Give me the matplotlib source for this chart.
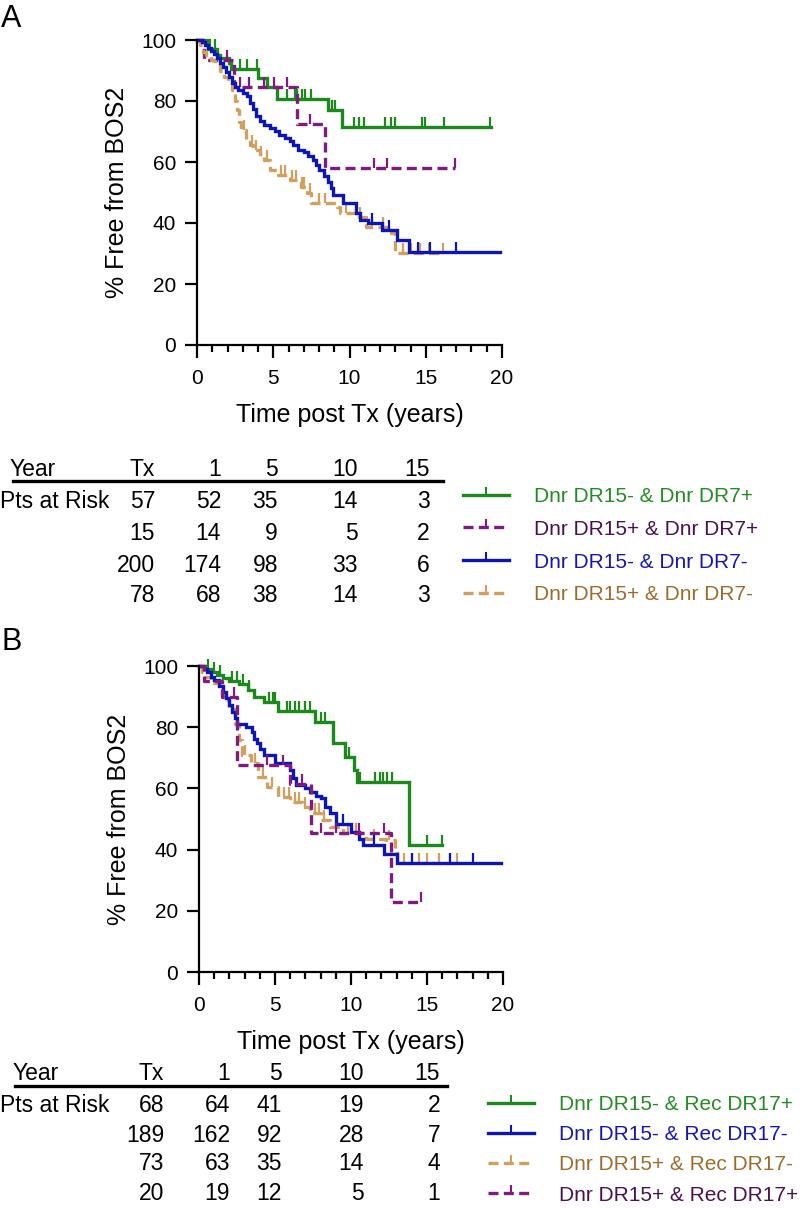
import numpy as np
import matplotlib
matplotlib.use("Agg")
import matplotlib.pyplot as plt
from matplotlib.lines import Line2D
from matplotlib.ticker import MultipleLocator

plt.rcParams['font.family'] = ['Liberation Sans', 'DejaVu Sans']

# ---------------- data: panel A ----------------
a_green_t = [0, 0.75, 1.3, 1.5, 2.1, 2.2, 4.0, 4.6, 5.25, 8.6, 9.5, 19.3]
a_green_s = [100, 97, 95, 94, 92.3, 90.5, 87.5, 84.5, 80.5, 77, 71.5, 71.5]
a_green_c = [0.87, 1.2, 2.84, 3.28, 3.93, 5.9, 6.45, 6.56, 6.9, 7.1, 7.5, 8.85,
             9.07, 10.27, 10.6, 10.93, 12.3, 12.75, 12.97, 14.75, 14.97, 16.17, 19.2]

a_purple_t = [0, 0.45, 2.4, 6.56, 8.4, 16.94]
a_purple_s = [100, 93.3, 84.7, 72.5, 58, 58]
a_purple_c = [1.97, 2.84, 3.39, 4.37, 5.03, 5.9, 7.43, 11.58, 12.46, 16.94]

a_blue_t = [0, 0.3, 0.5, 0.7, 0.9, 1.1, 1.3, 1.5, 1.7, 1.9, 2.1, 2.3, 2.5, 2.7,
            3.0, 3.3, 3.5, 3.7, 3.9, 4.1, 4.4, 4.8, 5.1, 5.4, 5.8, 6.1, 6.3, 6.6,
            7.0, 7.3, 7.6, 7.8, 8.0, 8.3, 8.6, 8.8, 8.95, 9.6, 10.4, 10.7, 11.2,
            12.1, 13.1, 13.9, 19.9]
a_blue_s = [100, 99.5, 98.5, 97.5, 96.5, 95.5, 94, 92.5, 91, 89.5, 88, 86, 84.5,
            83.5, 82.5, 81.5, 79.5, 77.5, 75, 73.5, 72, 71, 70, 69, 68, 67, 65.5,
            64, 63.3, 62, 60.5, 59, 57.5, 55.5, 53.5, 51.5, 49.2, 46.4, 43.2, 41,
            40, 37.7, 34.4, 30.6, 30.6]
a_blue_c = [11.5, 12.6, 14.5, 15.3, 17.0]

a_tan_t = [0, 0.2, 0.4, 0.6, 0.9, 1.2, 1.5, 1.8, 2.0, 2.3, 2.5, 2.6, 2.75, 2.9,
           3.2, 3.5, 3.7, 4.1, 4.4, 4.8, 5.3, 6.1, 6.8, 7.2, 7.5, 9.2, 9.4, 10.4,
           11.1, 12.7, 13.0, 16.1]
a_tan_s = [100, 98.5, 96, 95, 93.5, 92, 90, 88, 85.8, 83.5, 80, 77, 73, 70.5,
           67.2, 65.5, 64, 62, 60.7, 57.4, 55.7, 54, 51.9, 49.7, 46.4, 45.4, 43.2,
           42, 38.8, 36.6, 30.1, 30.1]
a_tan_c = [3.1, 3.6, 3.9, 4.2, 4.6, 5.5, 5.8, 6.2, 6.5, 6.9, 7.0, 7.4, 8.0, 8.4,
           9.8, 10.7, 11.5, 12.2, 13.5, 14.0, 14.6, 15.2, 16.1]

# ---------------- data: panel B ----------------
b_green_t = [0, 0.4, 0.8, 1.2, 1.6, 2.0, 2.6, 3.2, 3.6, 4.3, 5.2, 7.6, 8.8, 9.6,
             10.2, 10.4, 13.8, 16.0]
b_green_s = [100, 99, 98, 97, 96, 95, 94, 92, 90, 88.3, 85.4, 81.8, 74.7, 70.3,
             66, 62.2, 41.4, 41.4]
b_green_c = [0.6, 1.0, 1.4, 2.2, 2.5, 2.9, 3.3, 4.6, 4.9, 5.0, 5.8, 6.0, 6.3, 6.6,
             7.0, 7.3, 8.0, 8.3, 9.9, 10.6, 11.6, 11.9, 12.1, 12.4, 12.7, 15.0, 16.0]

b_blue_t = [0, 0.3, 0.5, 0.8, 1.0, 1.3, 1.6, 1.8, 2.0, 2.2, 2.4, 2.5, 3.1, 3.5,
            3.6, 3.8, 4.0, 4.3, 5.0, 6.0, 6.2, 6.4, 7.0, 7.3, 7.7, 8.0, 8.3, 8.6,
            9.0, 10.0, 10.5, 10.8, 12.2, 13.0, 19.9]
b_blue_s = [100, 99, 98, 96.5, 95.4, 93.5, 91.5, 89.5, 87.2, 85, 83, 81.2, 80,
            78.5, 76, 74.7, 73, 70.9, 68.2, 66, 63.5, 61, 60, 58.9, 57.5, 56.7, 54,
            51.8, 48.5, 45.8, 43.5, 41.4, 38.7, 35.7, 35.7]
b_blue_c = [9.5, 11.5, 14.0, 16.5, 18.0]

b_tan_t = [0, 0.2, 0.4, 0.8, 1.3, 1.6, 2.0, 2.4, 2.6, 2.8, 3.4, 3.9, 4.5, 5.2,
           6.0, 6.8, 7.3, 8.0, 8.6, 9.5, 11.0, 12.3, 12.9, 13.0, 17.0]
b_tan_s = [100, 98, 96.5, 94.3, 92, 89, 86, 81, 75.8, 70.9, 68.2, 63.8, 60.5,
           57.3, 55.6, 54, 51.8, 49.6, 47.4, 45.3, 43.6, 43, 40.3, 35.7, 35.7]
b_tan_c = [3.0, 3.7, 4.2, 4.8, 5.6, 5.9, 6.3, 6.6, 7.0, 7.6, 7.9, 8.2, 9.0, 9.8,
           10.3, 11.5, 12.5, 13.5, 14.0, 14.5, 15.0, 15.8, 16.5, 17.0]

b_purple_t = [0, 0.3, 1.5, 2.52, 6.0, 7.4, 12.66, 14.63]
b_purple_s = [100, 95, 90, 67.6, 61.6, 45.3, 22.9, 22.9]
b_purple_c = [2.3, 4.5, 5.5, 6.8, 8.0, 9.0, 10.5, 12.2, 14.6]

# ---------------- at-risk tables ----------------
years = ['Tx', '1', '5', '10', '15']
a_risk = [[57, 52, 35, 14, 3],
          [15, 14, 9, 5, 2],
          [200, 174, 98, 33, 6],
          [78, 68, 38, 14, 3]]
b_risk = [[68, 64, 41, 19, 2],
          [189, 162, 92, 28, 7],
          [73, 63, 35, 14, 4],
          [20, 19, 12, 5, 1]]

a_labels = ['Dnr DR15- & Dnr DR7+', 'Dnr DR15+ & Dnr DR7+',
            'Dnr DR15- & Dnr DR7-', 'Dnr DR15+ & Dnr DR7-']
b_labels = ['Dnr DR15- & Rec DR17+', 'Dnr DR15- & Rec DR17-',
            'Dnr DR15+ & Rec DR17-', 'Dnr DR15+ & Rec DR17+']

GREEN, PURPLE, BLUE, TAN = '#1b8a1b', '#801a80', '#0c16b8', '#d2a05e'
TXT = {GREEN: '#238c23', PURPLE: '#4b1050', BLUE: '#1616b4', TAN: '#9c6c2c'}
DASH = (0, (3, 1.6))

W, H = 800, 1208
fig = plt.figure(figsize=(W / 100, H / 100), dpi=100)


def fx(px):
    return px / W


def fy(py):
    return 1 - py / H


def km(ax, t, s, cens, color, ls):
    t = np.asarray(t)
    s = np.asarray(s)
    ax.step(t, s, where='post', color=color, lw=2.4, ls=ls, clip_on=False,
            solid_joinstyle='miter')
    cens = np.asarray(cens)
    idx = np.searchsorted(t, cens, side='right') - 1
    ax.plot(cens, s[idx], ls='none', marker=2, ms=7, mew=1.6, color=color,
            clip_on=False)


def style(ax):
    ax.set_xlim(0, 20)
    ax.set_ylim(0, 100)
    for sp in ('top', 'right'):
        ax.spines[sp].set_visible(False)
    for sp in ('left', 'bottom'):
        ax.spines[sp].set_linewidth(1.6)
    ax.xaxis.set_major_locator(MultipleLocator(5))
    ax.xaxis.set_minor_locator(MultipleLocator(1))
    ax.yaxis.set_major_locator(MultipleLocator(20))
    ax.tick_params(axis='both', which='major', direction='out', width=1.6,
                   labelsize=15)
    ax.tick_params(axis='x', which='major', length=9, pad=8)
    ax.tick_params(axis='x', which='minor', length=5, width=1.6)
    ax.tick_params(axis='y', which='major', length=9, pad=6)
    ax.set_xlabel('Time post Tx (years)', fontsize=18, labelpad=11)
    ax.set_ylabel('% Free from BOS2', fontsize=18, labelpad=9)


def table(rows, cols_r, y_head, y_line, y_rows, x_year, line_x):
    kw = dict(fontsize=16.5, va='center',
              family=['Liberation Sans', 'DejaVu Sans'])
    fig.text(fx(x_year), fy(y_head), 'Year', ha='left', **kw)
    for lab, xr in zip(years, cols_r):
        fig.text(fx(xr), fy(y_head), lab, ha='right', **kw)
    fig.add_artist(Line2D([fx(line_x[0]), fx(line_x[1])], [fy(y_line)] * 2,
                          color='black', lw=2.4, transform=fig.transFigure))
    fig.text(fx(0), fy(y_rows[0]), 'Pts at Risk', ha='left', **kw)
    for row, yr in zip(rows, y_rows):
        for v, xr in zip(row, cols_r):
            fig.text(fx(xr), fy(yr), str(v), ha='right', **kw)


def legend(specs, labels, x0, y0, spacing):
    handles = [Line2D([], [], color=c, lw=2.4, ls=ls, marker=2, ms=6, mew=1.5)
               for c, ls in specs]
    leg = fig.legend(handles, labels, loc='upper left',
                     bbox_to_anchor=(fx(x0), fy(y0)), frameon=False,
                     fontsize=15, handlelength=2.2, handletextpad=1.2,
                     labelspacing=spacing, borderpad=0, borderaxespad=0,
                     numpoints=1)
    for txt, (c, _) in zip(leg.get_texts(), specs):
        txt.set_color(TXT[c])


# ---------------- panel A ----------------
axA = fig.add_axes([fx(197), fy(345), 305 / W, 305 / H])
km(axA, a_green_t, a_green_s, a_green_c, GREEN, '-')
km(axA, a_purple_t, a_purple_s, a_purple_c, PURPLE, DASH)
km(axA, a_tan_t, a_tan_s, a_tan_c, TAN, DASH)
km(axA, a_blue_t, a_blue_s, a_blue_c, BLUE, '-')
style(axA)
fig.text(fx(1), fy(4), 'A', fontsize=22, ha='left', va='top')

table(a_risk, [155, 221, 278, 358, 430], 469, 481, [502, 533, 565, 596], 10,
      (13, 443))
legend([(GREEN, '-'), (PURPLE, DASH), (BLUE, '-'), (TAN, DASH)], a_labels,
       463, 487, 0.66)

# ---------------- panel B ----------------
axB = fig.add_axes([fx(199), fy(972), 304 / W, 306 / H])
km(axB, b_green_t, b_green_s, b_green_c, GREEN, '-')
km(axB, b_tan_t, b_tan_s, b_tan_c, TAN, DASH)
km(axB, b_blue_t, b_blue_s, b_blue_c, BLUE, '-')
km(axB, b_purple_t, b_purple_s, b_purple_c, PURPLE, DASH)
style(axB)
fig.text(fx(1), fy(627), 'B', fontsize=22, ha='left', va='top')

table(b_risk, [164, 230, 282, 364, 440], 1074, 1086, [1105, 1135, 1164, 1193],
      13, (15, 447))
legend([(GREEN, '-'), (BLUE, '-'), (TAN, DASH), (PURPLE, DASH)], b_labels,
       488, 1095, 0.54)

fig.savefig('out.png', dpi=100)
